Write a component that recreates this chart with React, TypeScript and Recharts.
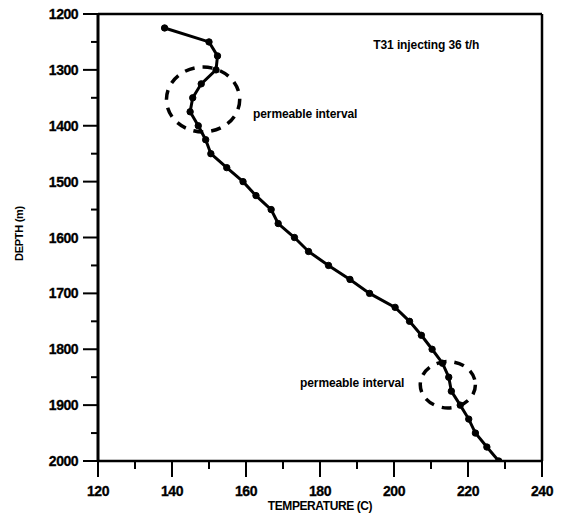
import React from "react";
import { LineChart, Line, XAxis, YAxis, ReferenceArea, ReferenceDot, ReferenceLine } from "recharts";

const depths = [1225,1250,1275,1300,1325,1350,1375,1400,1425,1450,1475,1500,1525,1550,1575,1600,1625,1650,1675,1700,1725,1750,1775,1800,1825,1850,1875,1900,1925,1950,1975,2000];
const temps = [138,150,152.3,151.9,147.9,145.6,144.9,147.1,149.1,150.5,154.8,159.2,162.7,166.8,168.7,173.1,176.9,182.3,188.1,193.4,200.3,204.2,207.4,210.3,213.1,214.8,215.5,217.9,220.2,222.0,225.1,228.3];

const xTicks = [120,130,140,150,160,170,180,190,200,210,220,230,240];
const yTicks = [1200,1250,1300,1350,1400,1450,1500,1550,1600,1650,1700,1750,1800,1850,1900,1950,2000];

// permeable interval ellipses: [tMin, tMax, dTop, dBottom]
const ellipses = [
  [138.5, 158.3, 1295, 1411],
  [207.1, 222.0, 1822, 1905],
];

// annotations: [text, temp, depth]
const notes: [string, number, number][] = [
  ["T31 injecting 36 t/h", 194.4, 1255],
  ["permeable interval", 161.9, 1379],
  ["permeable interval", 174.6, 1860],
];

const data = depths.map((d, i) => ({ depth: d, temp: temps[i] }));

const FONT = "'Liberation Sans', Arial, Helvetica, sans-serif";

const YTick = (props: any) => {
  const { x, y, payload } = props;
  const v = payload.value;
  const major = v % 100 === 0;
  return (
    <g>
      <line x1={x - (major ? 15 : 7)} x2={x} y1={y} y2={y} stroke="#000" strokeWidth={2} />
      {major && (
        <text x={x - 20} y={y} dy={5} textAnchor="end" fontFamily={FONT} fontWeight="bold" fontSize={14} letterSpacing={-0.5} fill="#000" stroke="#000" strokeWidth={0.3}>
          {v}
        </text>
      )}
    </g>
  );
};

const XTick = (props: any) => {
  const { x, y, payload } = props;
  const v = payload.value;
  const major = v % 20 === 0;
  return (
    <g>
      <line x1={x} x2={x} y1={y} y2={y + (major ? 16 : 8)} stroke="#000" strokeWidth={2} />
      {major && (
        <text x={x} y={y + 35} textAnchor="middle" fontFamily={FONT} fontWeight="bold" fontSize={14} letterSpacing={-0.5} fill="#000" stroke="#000" strokeWidth={0.3}>
          {v}
        </text>
      )}
    </g>
  );
};

const EllipseShape = (props: any) => {
  const { x, y, width, height } = props;
  return (
    <ellipse
      cx={x + width / 2}
      cy={y + height / 2}
      rx={Math.abs(width) / 2}
      ry={Math.abs(height) / 2}
      fill="none"
      stroke="#000"
      strokeWidth={3.5}
      strokeDasharray="10 8"
    />
  );
};

const makeNote = (text: string) => (props: any) => (
  <text x={props.cx} y={props.cy} dy={4} textAnchor="start" fontFamily={FONT} fontWeight="bold" fontSize={12} letterSpacing={-0.1} fill="#000">
    {text}
  </text>
);

const XLabel = (props: any) => {
  const vb = props.viewBox;
  return (
    <text x={vb.x + vb.width / 2} y={vb.y + 49} textAnchor="middle" fontFamily={FONT} fontWeight="bold" fontSize={12} letterSpacing={-0.4} fill="#000">
      TEMPERATURE (C)
    </text>
  );
};

const YLabel = (props: any) => {
  const vb = props.viewBox;
  const cx = vb.x + 14.5;
  const cy = vb.y + vb.height / 2 - 4;
  return (
    <text x={cx} y={cy} transform={`rotate(-90 ${cx} ${cy})`} textAnchor="middle" fontFamily={FONT} fontWeight="bold" fontSize={11} letterSpacing={-0.3} fill="#000">
      DEPTH (m)
    </text>
  );
};

export default function App() {
  return (
    <div style={{ margin: "-8px 0 0 -8px", width: 563, height: 517 }}>
      <LineChart width={563} height={517} data={data} margin={{ top: 14, right: 21, bottom: 0, left: 8 }}>
        <XAxis
          xAxisId="b"
          type="number"
          dataKey="temp"
          domain={[120, 240]}
          ticks={xTicks}
          interval={0}
          allowDataOverflow
          tick={<XTick />}
          tickLine={false}
          tickSize={0}
          tickMargin={0}
          axisLine={{ stroke: "#000", strokeWidth: 2.5 }}
          height={56}
          label={<XLabel />}
        />
        <YAxis
          yAxisId="l"
          type="number"
          domain={[1200, 2000]}
          reversed
          ticks={yTicks}
          interval={0}
          allowDataOverflow
          tick={<YTick />}
          tickLine={false}
          tickSize={0}
          tickMargin={0}
          axisLine={{ stroke: "#000", strokeWidth: 3 }}
          width={90}
          label={<YLabel />}
        />
        <ReferenceLine xAxisId="b" yAxisId="l" y={1200} stroke="#000" strokeWidth={2.5} />
        <ReferenceLine xAxisId="b" yAxisId="l" x={240} stroke="#000" strokeWidth={2.5} />
        {ellipses.map((e, i) => (
          <ReferenceArea key={"e" + i} xAxisId="b" yAxisId="l" x1={e[0]} x2={e[1]} y1={e[2]} y2={e[3]} shape={<EllipseShape />} />
        ))}
        {notes.map((n, i) => (
          <ReferenceDot key={"n" + i} xAxisId="b" yAxisId="l" x={n[1]} y={n[2]} r={0} shape={makeNote(n[0])} />
        ))}
        <Line
          xAxisId="b"
          yAxisId="l"
          type="linear"
          dataKey="depth"
          stroke="#000"
          strokeWidth={3}
          dot={{ r: 3.2, fill: "#000", stroke: "#000", strokeWidth: 1 }}
          isAnimationActive={false}
        />
      </LineChart>
    </div>
  );
}
